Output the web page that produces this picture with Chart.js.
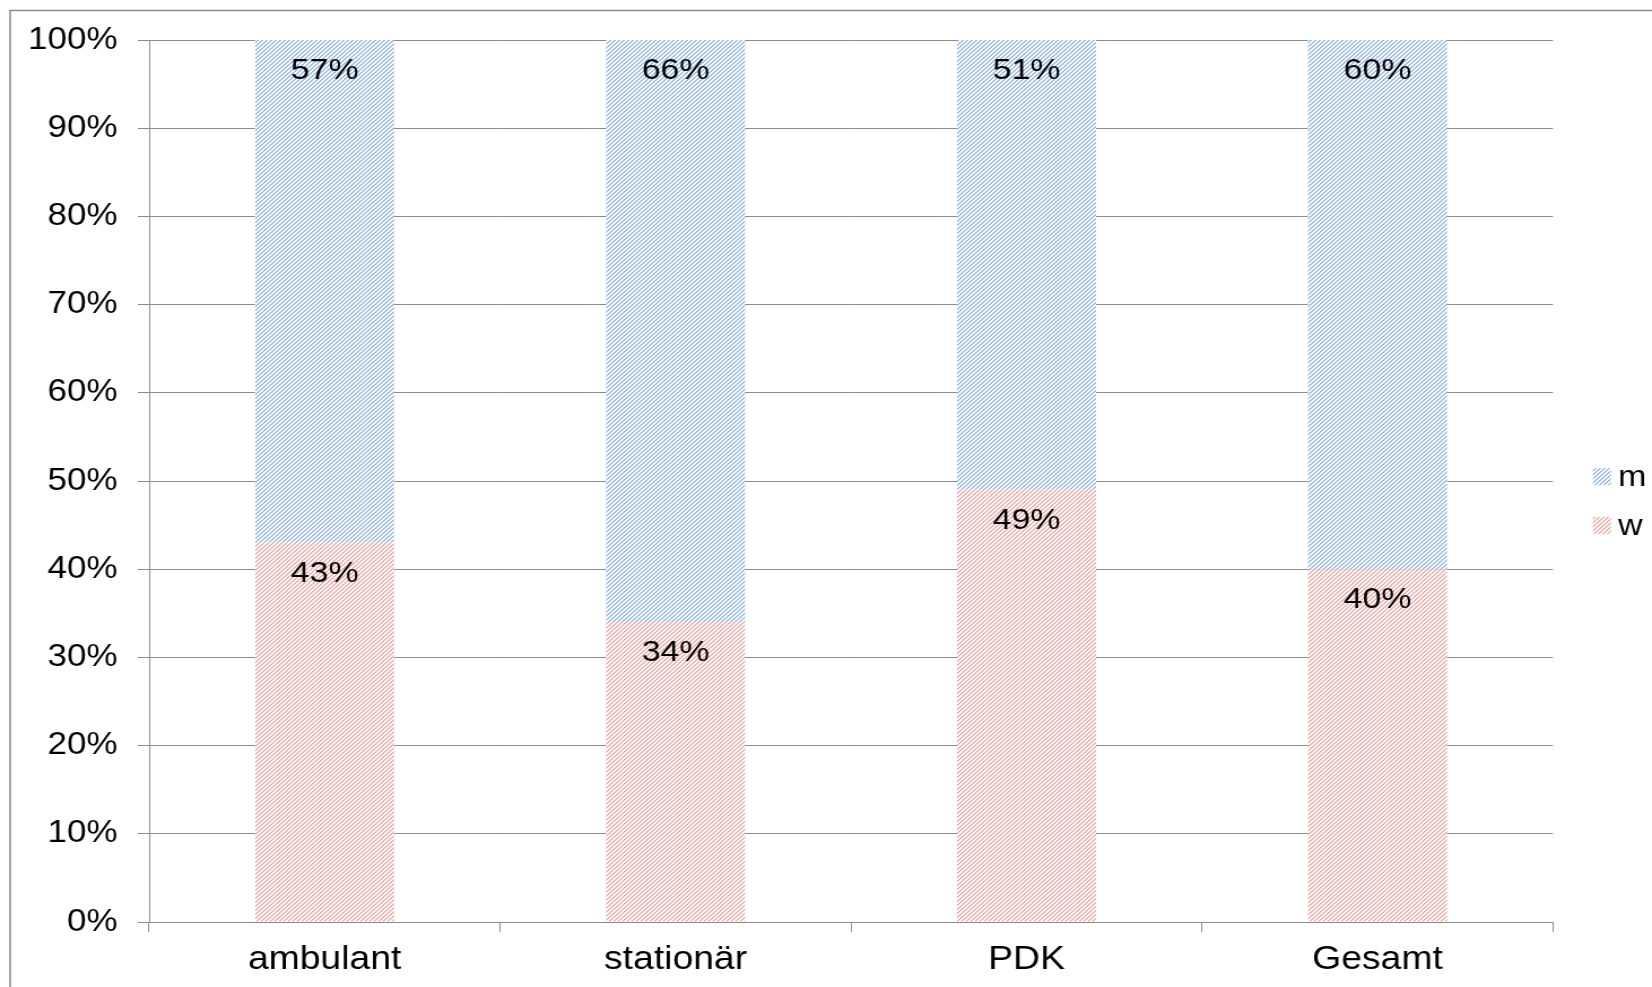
<!DOCTYPE html>
<html>
<head>
<meta charset="utf-8">
<script src="https://cdn.jsdelivr.net/npm/chart.js@4/dist/chart.umd.min.js"></script>
<style>
  html, body { margin: 0; padding: 0; background: #fff; overflow: hidden; }
  #chart { display: block; }
</style>
</head>
<body>
<canvas id="chart" width="1462" height="987" style="width:1652px;height:987px"></canvas>
<script>
// Anteil der Geschlechter je Versorgungsbereich (in %)
const categories = ['ambulant', 'stationär', 'PDK', 'Gesamt'];
const shareW = [43, 34, 49, 40];
const shareM = [57, 66, 51, 60];
const seriesW = 'w';
const seriesM = 'm';

const FONT = '"Liberation Sans", Arial, sans-serif';
const GRID = '#8c8c8c';

// diagonal hatch fill ("/" stripes on white)
function hatch(color) {
  const t = document.createElement('canvas');
  t.width = 4; t.height = 4;
  const g = t.getContext('2d');
  g.fillStyle = '#ffffff';
  g.fillRect(0, 0, 4, 4);
  g.fillStyle = color;
  for (let x = 0; x < 4; x++) {
    for (let y = 0; y < 4; y++) {
      const d = (x + y) % 4;
      if (d === 3 || d === 0) g.fillRect(x, y, 1, 1);
    }
  }
  return g.createPattern(t, 'repeat');
}

const ctx = document.getElementById('chart').getContext('2d');
const fillW = hatch('#efb3b3');
const fillM = hatch('#9fc0ea');

// frame around the whole chart (top and left edges are visible)
const framePlugin = {
  id: 'frame',
  beforeDraw(chart) {
    const c = chart.ctx;
    c.save();
    c.strokeStyle = '#8a8a8a';
    c.lineWidth = 1.5;
    c.beginPath();
    c.moveTo(8.9, chart.height + 5);
    c.lineTo(8.9, 10.5);
    c.lineTo(chart.width + 5, 10.5);
    c.stroke();
    c.restore();
  }
};

// percentage labels at the top inside of each segment
const valueLabels = {
  id: 'valueLabels',
  afterDatasetsDraw(chart) {
    const c = chart.ctx;
    c.save();
    c.font = '30px ' + FONT;
    c.fillStyle = '#000';
    c.textAlign = 'center';
    c.textBaseline = 'middle';
    chart.data.datasets.forEach((ds, i) => {
      chart.getDatasetMeta(i).data.forEach((bar, j) => {
        c.fillText(ds.data[j] + '%', bar.x, bar.y + 30.5);
      });
    });
    c.restore();
  }
};

// legend on the right: m above w
const sideLegend = {
  id: 'sideLegend',
  afterDraw(chart) {
    const c = chart.ctx;
    const items = [chart.data.datasets[1], chart.data.datasets[0]];
    const boxX = 1409.7, boxW = 16, boxH = 17;
    const textX = 1432;
    const centers = [476.7, 525.5];
    c.save();
    c.font = '30px ' + FONT;
    c.textAlign = 'left';
    c.textBaseline = 'middle';
    items.forEach((ds, k) => {
      const cy = centers[k];
      c.fillStyle = ds.backgroundColor;
      c.fillRect(boxX, cy - boxH / 2, boxW, boxH);
      c.fillStyle = '#000';
      c.fillText(ds.label, textX, cy + 1);
    });
    c.restore();
  }
};

new Chart(ctx, {
  type: 'bar',
  data: {
    labels: categories,
    datasets: [
      { label: seriesW, data: shareW, backgroundColor: fillW, borderWidth: 0 },
      { label: seriesM, data: shareM, backgroundColor: fillM, borderWidth: 0 }
    ]
  },
  options: {
    responsive: false,
    devicePixelRatio: 1,
    animation: false,
    layout: { padding: { top: 40, right: 87.6, bottom: 0, left: 0 } },
    plugins: {
      legend: { display: false },
      tooltip: { enabled: false }
    },
    datasets: {
      bar: { barPercentage: 0.396, categoryPercentage: 1 }
    },
    scales: {
      x: {
        stacked: true,
        grid: {
          display: true,
          offset: true,
          drawOnChartArea: false,
          drawTicks: true,
          tickLength: 10,
          color: GRID,
          lineWidth: 1
        },
        border: { display: true, color: GRID, width: 1 },
        ticks: {
          color: '#000',
          font: { family: FONT, size: 33 },
          padding: 8.5,
          maxRotation: 0
        },
        afterFit(scale) { scale.height = 65; }
      },
      y: {
        stacked: true,
        min: 0,
        max: 100,
        grid: {
          color: GRID,
          lineWidth: 1,
          drawTicks: true,
          tickLength: 10
        },
        border: { display: true, color: GRID, width: 1 },
        ticks: {
          stepSize: 10,
          color: '#000',
          font: { family: FONT, size: 31 },
          padding: 18,
          callback: v => v + '%'
        },
        afterFit(scale) { scale.width = 132; }
      }
    }
  },
  plugins: [framePlugin, valueLabels, sideLegend]
});
</script>
</body>
</html>
